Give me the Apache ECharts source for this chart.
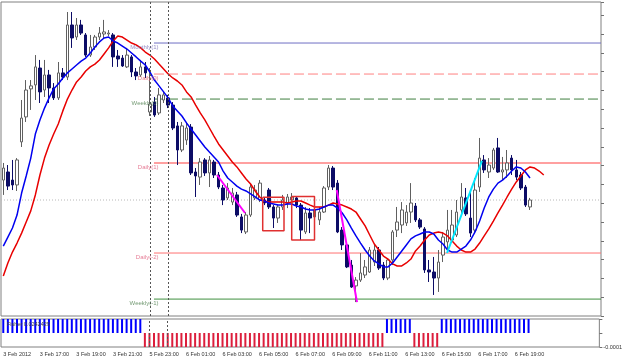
<!DOCTYPE html>
<html><head><meta charset="utf-8">
<script src="https://cdn.jsdelivr.net/npm/echarts@6/dist/echarts.min.js"></script>
<style>html,body{margin:0;padding:0;background:#fff}#c{width:625px;height:360px}</style>
</head><body><div id="c"></div>
<script>
// ---- time axis labels (one every 8 bars of 15 minutes) ----
const tickLabels = ['3 Feb 2012','3 Feb 17:00','3 Feb 19:00','3 Feb 21:00','5 Feb 23:00','6 Feb 01:00','6 Feb 03:00','6 Feb 05:00','6 Feb 07:00','6 Feb 09:00','6 Feb 11:00','6 Feb 13:00','6 Feb 15:00','6 Feb 17:00','6 Feb 19:00'];

// ---- OHLC (M15) ----
const opens = [1.31123,1.31166,1.31123,1.31097,1.31326,1.31459,1.31608,1.31629,1.31719,1.31602,
1.31682,1.31613,1.31560,1.31693,1.31671,1.31948,1.31884,1.31948,1.31895,1.31788,
1.31831,1.31884,1.31900,1.31900,1.31895,1.31783,1.31772,1.31725,1.31778,1.31698,
1.31682,1.31725,1.31485,1.31538,1.31480,1.31549,1.31560,1.31522,1.31411,1.31283,
1.31336,1.31405,1.31166,1.31139,1.31230,1.31161,1.31219,1.31150,1.31081,1.31028,
1.31006,1.31044,1.30927,1.30847,1.30937,1.31028,1.31017,1.31017,1.31070,1.30980,
1.30921,1.30980,1.31001,1.31017,1.31028,1.30990,1.30847,1.30948,1.30927,1.30911,
1.30953,1.31086,1.31187,1.31107,1.30857,1.30778,1.30671,1.30560,1.30591,1.30618,
1.30634,1.30687,1.30751,1.30671,1.30602,1.30698,1.30857,1.30884,1.30895,1.30953,
1.30985,1.30911,1.30863,1.30645,1.30634,1.30602,1.30724,1.30794,1.30804,1.30831,
1.30964,1.31028,1.30921,1.30857,1.31086,1.31230,1.31166,1.31187,1.31294,1.31166,
1.31177,1.31240,1.31177,1.31150,1.31086,1.30980];
const closes = [1.31187,1.31091,1.31097,1.31230,1.31453,1.31602,1.31624,1.31725,1.31592,1.31682,
1.31613,1.31560,1.31693,1.31671,1.31948,1.31879,1.31948,1.31905,1.31788,1.31831,
1.31884,1.31905,1.31911,1.31905,1.31778,1.31767,1.31730,1.31788,1.31698,1.31677,
1.31725,1.31693,1.31528,1.31469,1.31576,1.31576,1.31522,1.31400,1.31283,1.31411,
1.31400,1.31161,1.31145,1.31219,1.31161,1.31230,1.31150,1.31086,1.31017,1.31081,
1.31054,1.30937,1.30857,1.30937,1.31086,1.31070,1.31107,1.31001,1.30980,1.30921,
1.30980,1.31017,1.31033,1.31033,1.30990,1.30857,1.30948,1.30921,1.30964,1.30953,
1.31081,1.31187,1.31086,1.30847,1.30778,1.30661,1.30554,1.30591,1.30629,1.30661,
1.30751,1.30751,1.30655,1.30602,1.30698,1.30847,1.30900,1.30964,1.30953,1.31001,
1.30911,1.30873,1.30645,1.30634,1.30602,1.30687,1.30820,1.30857,1.30884,1.30953,
1.31033,1.30943,1.30841,1.31070,1.31240,1.31177,1.31203,1.31283,1.31166,1.31177,
1.31214,1.31177,1.31139,1.31081,1.30990,1.31017];
const lows = [1.31044,1.31070,1.31070,1.31065,1.31299,1.31432,1.31496,1.31549,1.31533,1.31565,
1.31533,1.31549,1.31549,1.31655,1.31655,1.31826,1.31868,1.31895,1.31778,1.31778,
1.31815,1.31868,1.31879,1.31889,1.31725,1.31725,1.31725,1.31719,1.31671,1.31655,
1.31671,1.31666,1.31464,1.31459,1.31469,1.31533,1.31506,1.31389,1.31203,1.31272,
1.31310,1.31150,1.31033,1.31097,1.31145,1.31086,1.31134,1.31075,1.30990,1.31017,
1.30990,1.30927,1.30841,1.30836,1.30927,1.31017,1.31006,1.30990,1.30969,1.30868,
1.30895,1.30964,1.30974,1.30996,1.30974,1.30804,1.30836,1.30841,1.30911,1.30884,
1.30948,1.31070,1.31070,1.30841,1.30751,1.30655,1.30549,1.30474,1.30581,1.30602,
1.30629,1.30666,1.30645,1.30591,1.30591,1.30671,1.30820,1.30841,1.30879,1.30895,
1.30900,1.30863,1.30629,1.30581,1.30512,1.30528,1.30687,1.30751,1.30788,1.30820,
1.30948,1.30932,1.30820,1.30841,1.31060,1.31161,1.31134,1.31177,1.31161,1.31123,
1.31134,1.31150,1.31123,1.31070,1.30980,1.30964];
const highs = [1.31214,1.31203,1.31230,1.31240,1.31549,1.31655,1.31655,1.31788,1.31762,1.31762,
1.31709,1.31639,1.31751,1.31719,1.32017,1.32017,1.31985,1.31975,1.31905,1.31895,
1.31895,1.31937,1.31975,1.31921,1.31905,1.31815,1.31788,1.31826,1.31788,1.31719,
1.31762,1.31751,1.31719,1.31565,1.31613,1.31592,1.31576,1.31538,1.31432,1.31432,
1.31432,1.31421,1.31187,1.31240,1.31240,1.31251,1.31230,1.31166,1.31097,1.31107,
1.31081,1.31060,1.30943,1.30953,1.31107,1.31097,1.31123,1.31033,1.31081,1.30990,
1.30990,1.31044,1.31049,1.31054,1.31038,1.31001,1.30980,1.30974,1.30980,1.30980,
1.31091,1.31203,1.31198,1.31123,1.30873,1.30788,1.30698,1.30607,1.30735,1.30698,
1.30767,1.30778,1.30767,1.30687,1.30708,1.30857,1.30980,1.31006,1.30990,1.31107,
1.31001,1.30921,1.30873,1.30698,1.30714,1.30751,1.30847,1.30964,1.30964,1.31017,
1.31107,1.31081,1.31060,1.31134,1.31347,1.31256,1.31240,1.31294,1.31347,1.31246,
1.31283,1.31256,1.31230,1.31166,1.31097,1.31028];

// ---- moving averages ----
const fastMA = [1.30772,1.30820,1.30868,1.30937,1.31054,1.31145,1.31240,1.31368,1.31443,1.31506,
1.31560,1.31608,1.31634,1.31666,1.31693,1.31714,1.31735,1.31756,1.31772,1.31799,
1.31831,1.31858,1.31879,1.31884,1.31863,1.31852,1.31836,1.31820,1.31799,1.31778,
1.31756,1.31735,1.31698,1.31655,1.31624,1.31592,1.31560,1.31517,1.31491,1.31464,
1.31427,1.31395,1.31363,1.31331,1.31299,1.31272,1.31246,1.31219,1.31171,1.31134,
1.31113,1.31091,1.31075,1.31065,1.31049,1.31033,1.31017,1.31012,1.31001,1.30996,
1.30990,1.30990,1.30996,1.30996,1.30985,1.30980,1.30969,1.30964,1.30964,1.30969,
1.30980,1.30990,1.30990,1.30974,1.30948,1.30911,1.30868,1.30826,1.30788,1.30751,
1.30719,1.30693,1.30677,1.30661,1.30661,1.30682,1.30714,1.30746,1.30778,1.30810,
1.30826,1.30836,1.30847,1.30847,1.30836,1.30804,1.30783,1.30751,1.30740,1.30740,
1.30756,1.30772,1.30804,1.30847,1.30905,1.30974,1.31033,1.31075,1.31107,1.31123,
1.31145,1.31171,1.31193,1.31187,1.31166,1.31134];
const slowMA = [1.30613,1.30682,1.30740,1.30788,1.30841,1.30900,1.30959,1.31044,1.31150,1.31240,
1.31310,1.31368,1.31421,1.31491,1.31554,1.31602,1.31645,1.31671,1.31703,1.31725,
1.31740,1.31762,1.31794,1.31826,1.31863,1.31889,1.31884,1.31868,1.31852,1.31842,
1.31826,1.31804,1.31788,1.31767,1.31740,1.31714,1.31687,1.31666,1.31650,1.31629,
1.31592,1.31565,1.31522,1.31480,1.31443,1.31400,1.31357,1.31315,1.31283,1.31251,
1.31219,1.31193,1.31161,1.31129,1.31102,1.31065,1.31033,1.31012,1.31006,1.31006,
1.31006,1.31006,1.31001,1.31006,1.31012,1.31012,1.31001,1.30990,1.30980,1.30980,
1.30980,1.30990,1.31001,1.30996,1.30990,1.30980,1.30969,1.30953,1.30916,1.30879,
1.30831,1.30783,1.30751,1.30719,1.30703,1.30677,1.30666,1.30666,1.30682,1.30703,
1.30746,1.30772,1.30804,1.30831,1.30841,1.30847,1.30841,1.30826,1.30799,1.30772,
1.30751,1.30740,1.30740,1.30756,1.30788,1.30826,1.30863,1.30905,1.30948,1.30990,
1.31033,1.31075,1.31113,1.31145,1.31177,1.31193,1.31187,1.31171,1.31150];

// ---- Fisher histogram (116 bars) ----
const P = 0.0001, N = -0.0001;
const fisher = [
P,P,P,P,P,P,P,P,P,P, P,P,P,P,P,P,P,P,P,P, P,P,P,P,P,P,P,P,P,P, P,
N,N,N,N,N,N,N,N,N, N,N,N,N,N,N,N,N,N,N, N,N,N,N,N,N,N,N,N,N, N,N,N,N,N,N,N,N,N,N, N,N,N,N,N,N,N,N,N,N, N,N,N,N,
P,P,P,P,P,P,
N,N,N,N,N,N,
P,P,P,P,P,P,P,P,P,P, P,P,P,P,P,P,P,P,P,P];
const fisherCaption = 'Fisher 0.0242429';

// ---- pivot levels ----
const levelNames  = ['Monthly(1)','Daily(0)','Weekly(0)','Daily(1)','Daily(-2)','Weekly(-1)'];
const levelPrices = [1.31852, 1.31687, 1.31554, 1.31214, 1.30735, 1.30490];
const levelStartBar = 32.9;

// ---- drawn objects (bar index, price) ----
const trendMagenta1 = [[46.66, 1.31150], [52.78, 1.30948]];
const trendMagenta2 = [[72.8, 1.31070], [77.23, 1.30474]];
const trendCyan     = [[96.88, 1.30735], [104.5, 1.31225]];
const rectBars   = [[56.64, 61.29], [62.97, 67.95]];
const rectPrices = [[1.31031, 1.30854], [1.31035, 1.30804]];
const separatorBars = [32, 36];

// ================= build =================
const SLOTS = 131;
const categories = Array.from({length: SLOTS}, (_, i) => (i % 8 === 0 && i / 8 < tickLabels.length) ? tickLabels[i / 8] : '');
const candles = opens.map((o, i) => [o, closes[i], lows[i], highs[i]]);
const lastClose = closes[closes.length - 1];
const FONT = 'Liberation Sans';

const levelStyles = [
  {color:'#6f6fc4', type:'solid', width:1, text:'#7a6fb8'},
  {color:'#ff8080', type:[10,4], width:1, text:'#e05a6a'},
  {color:'#3f7f3f', type:[10,4], width:1, text:'#4f7f4f'},
  {color:'#ffa0a0', type:'solid', width:2, text:'#e05a7a'},
  {color:'#ff7070', type:'solid', width:1, text:'#e05a7a'},
  {color:'#3f8f3f', type:'solid', width:1, text:'#4f7f4f'}
];

const series = [];
levelPrices.forEach((p, k) => {
  series.push({type:'line', xAxisIndex:1, yAxisIndex:0, symbol:'none', silent:true, z:1,
    data:[[levelStartBar, p], [SLOTS - 0.5, p]],
    lineStyle:{color:levelStyles[k].color, type:levelStyles[k].type, width:levelStyles[k].width}});
});
series.push({type:'line', xAxisIndex:1, yAxisIndex:0, symbol:'none', silent:true, z:1,
  data:[[-0.5, lastClose], [SLOTS - 0.5, lastClose]],
  lineStyle:{color:'#b8b8b8', type:[1,2], width:1}});
series.push({type:'candlestick', xAxisIndex:0, yAxisIndex:0, data:candles, barWidth:3, z:2,
  itemStyle:{color:'#ffffff', color0:'#0c0c66', borderColor:'#606060', borderColor0:'#0c0c66', borderWidth:1},
  markLine:{symbol:'none', silent:true, label:{show:false}, animation:false,
    lineStyle:{color:'#555', type:[2,2], width:1},
    data: separatorBars.map(b => ({xAxis:b}))}});
series.push({type:'line', xAxisIndex:0, yAxisIndex:0, data:slowMA, symbol:'none', z:3,
  lineStyle:{color:'#e80000', width:1.5}});
series.push({type:'line', xAxisIndex:0, yAxisIndex:0, data:fastMA, symbol:'none', z:3,
  lineStyle:{color:'#0000f0', width:1.5}});
[[trendMagenta1,'#ff00ff'],[trendMagenta2,'#ff00ff'],[trendCyan,'#00e8ff']].forEach(([d,c]) => {
  series.push({type:'line', xAxisIndex:1, yAxisIndex:0, data:d, symbol:'none', z:4, lineStyle:{color:c, width:2}});
});
rectBars.forEach((b, k) => {
  const [x0, x1] = b, [p0, p1] = rectPrices[k];
  series.push({type:'line', xAxisIndex:1, yAxisIndex:0, symbol:'none', z:4,
    data:[[x0,p0],[x1,p0],[x1,p1],[x0,p1],[x0,p0]], lineStyle:{color:'#e03030', width:1.5}});
});
series.push({type:'scatter', xAxisIndex:1, yAxisIndex:0, symbolSize:1, z:6, silent:true,
  itemStyle:{color:'rgba(0,0,0,0)'},
  data: levelPrices.map((p, k) => ({value:[levelStartBar, p], name:levelNames[k],
    label:{show:true, formatter:levelNames[k], position:'left', distance:0, offset:[5, 4.5],
      fontSize:6, fontFamily:FONT, color:levelStyles[k].text}}))});
series.push({type:'bar', xAxisIndex:2, yAxisIndex:1, data:fisher, barWidth:2, z:2,
  itemStyle:{color: p => p.value >= 0 ? '#0000ff' : '#dc1e3c'},
  markLine:{symbol:'none', silent:true, label:{show:false}, animation:false,
    lineStyle:{color:'#555', type:[2,2], width:1},
    data: separatorBars.map(b => ({xAxis:b}))}});

const option = {
  animation:false,
  backgroundColor:'#ffffff',
  grid:[
    {left:1, top:2, width:600, height:314, show:true, borderColor:'#808080', borderWidth:1, backgroundColor:'#fff'},
    {left:1, top:319, width:600, height:28, show:true, borderColor:'#808080', borderWidth:1, backgroundColor:'#fff'}
  ],
  xAxis:[
    {type:'category', gridIndex:0, data:categories, boundaryGap:true,
      axisLine:{show:false, onZero:false}, axisTick:{show:false}, axisLabel:{show:false}, splitLine:{show:false}},
    {type:'value', gridIndex:0, min:-0.5, max:SLOTS - 0.5, show:false, axisLine:{onZero:false}},
    {type:'category', gridIndex:1, data:categories, boundaryGap:true,
      axisLine:{show:false, onZero:false}, axisTick:{show:false}, splitLine:{show:false},
      axisLabel:{show:true, interval:(i, v) => v !== '', align:'left', fontSize:5.5, fontFamily:FONT, color:'#333', margin:4}}
  ],
  yAxis:[
    {type:'value', gridIndex:0, position:'right', min:1.304, max:1.3207021, interval:0.001, scale:false,
      axisLine:{show:false, onZero:false}, splitLine:{show:false}, axisLabel:{show:false},
      axisTick:{show:true, length:3, lineStyle:{color:'#707070'}}},
    {type:'value', gridIndex:1, position:'right', min:-0.0001, max:0.0001, interval:0.0001,
      axisLine:{show:false, onZero:false}, splitLine:{show:false},
      axisTick:{show:true, length:3, lineStyle:{color:'#707070'}},
      axisLabel:{show:true, fontSize:5.5, fontFamily:FONT, color:'#333', margin:4,
        formatter: v => v < 0 ? v.toFixed(4) : ''}}
  ],
  graphic:[{type:'text', left:7, top:321, z:100, style:{text:fisherCaption, fontSize:5.5, fontFamily:FONT, fill:'#404040'}}],
  series
};
const chart = echarts.init(document.getElementById('c'));
chart.setOption(option);
</script></body></html>
